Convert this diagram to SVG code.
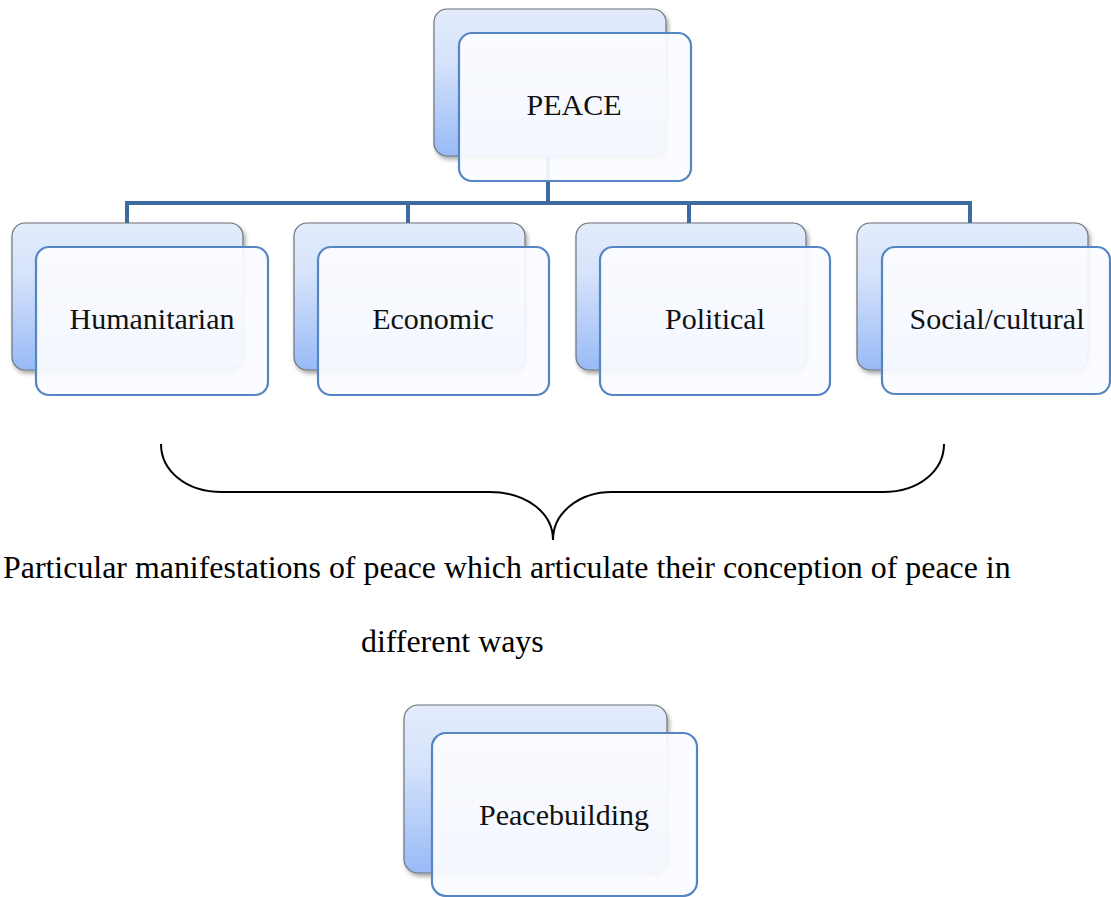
<svg xmlns="http://www.w3.org/2000/svg" width="1111" height="897" viewBox="0 0 1111 897">
<defs>
<linearGradient id="backGrad" x1="0" y1="0" x2="0" y2="1">
<stop offset="0" stop-color="#e3ecfc"/>
<stop offset="0.35" stop-color="#d6e3fb"/>
<stop offset="1" stop-color="#98baf6"/>
</linearGradient>
<filter id="shadow" x="-10%" y="-10%" width="125%" height="130%">
<feDropShadow dx="2" dy="3" stdDeviation="2" flood-color="#000" flood-opacity="0.35"/>
</filter>
</defs>
<style>
.back{fill:url(#backGrad);stroke:#6f7378;stroke-width:1.2;filter:url(#shadow)}
.front{fill:#fbfcff;fill-opacity:0.93;stroke:#5585c2;stroke-width:2.2}
.lbl{font-family:"Liberation Serif","Times New Roman",serif;font-size:30px;fill:#111}
.txt{font-family:"Liberation Serif","Times New Roman",serif;font-size:31.9px;fill:#000}
.conn{fill:none;stroke:#3e6b9f;stroke-width:4}
.brace{fill:none;stroke:#000;stroke-width:2}
</style>
<g id="connectors">
<path class="conn" d="M548 156 V203 M125 203 H970 M127 201 V223 M408 201 V223 M689 201 V223 M970 201 V223"/>
</g>
<g id="peace">
<rect class="back" x="434" y="9" width="232" height="147" rx="13"/>
<rect class="front" x="459" y="33" width="232" height="148" rx="13"/>
<text class="lbl" x="574" y="115" text-anchor="middle">PEACE</text>
</g>
<g id="humanitarian">
<rect class="back" x="12" y="223" width="231" height="147" rx="13"/>
<rect class="front" x="36" y="247" width="232" height="148" rx="13"/>
<text class="lbl" x="152" y="329" text-anchor="middle">Humanitarian</text>
</g>
<g id="economic">
<rect class="back" x="294" y="223" width="231" height="147" rx="13"/>
<rect class="front" x="318" y="247" width="231" height="148" rx="13"/>
<text class="lbl" x="433" y="329" text-anchor="middle">Economic</text>
</g>
<g id="political">
<rect class="back" x="576" y="223" width="230" height="147" rx="13"/>
<rect class="front" x="600" y="247" width="230" height="148" rx="13"/>
<text class="lbl" x="715" y="329" text-anchor="middle">Political</text>
</g>
<g id="social">
<rect class="back" x="857" y="223" width="231" height="147" rx="13"/>
<rect class="front" x="882" y="247" width="228" height="147" rx="13"/>
<text class="lbl" x="997" y="329" text-anchor="middle">Social/cultural</text>
</g>
<g id="brace">
<path class="brace" d="M161 444 C161 470 185 492 222 492 H490 C525 492 553 512 553 540 C553 512 580 492 612 492 H883 C920 492 944 470 944 444"/>
</g>
<g id="caption">
<text class="txt" x="3" y="578">Particular manifestations of peace which articulate their conception of peace in</text>
<text class="txt" x="361" y="652">different ways</text>
</g>
<g id="peacebuilding">
<rect class="back" x="404" y="705" width="263" height="168" rx="14"/>
<rect class="front" x="432" y="733" width="265" height="163" rx="14"/>
<text class="lbl" x="564" y="825" text-anchor="middle">Peacebuilding</text>
</g>
</svg>
